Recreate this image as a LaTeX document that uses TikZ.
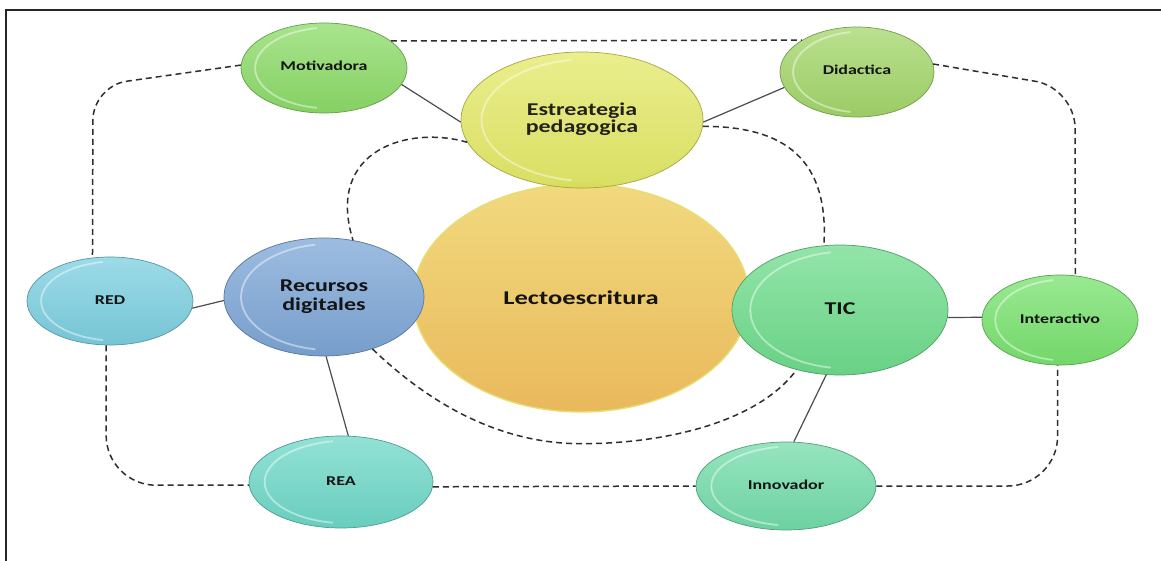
\documentclass[tikz,border=0pt]{standalone}
\usepackage{fontspec}
\setmainfont{Carlito}
\usetikzlibrary{shapes.geometric}
\definecolor{cMot}{HTML}{8CDB68}
\definecolor{cDid}{HTML}{A3D66A}
\definecolor{cEst}{HTML}{E2E85C}
\definecolor{cRec}{HTML}{7DA6D6}
\definecolor{cRed}{HTML}{7CCFE0}
\definecolor{cTic}{HTML}{6EDC8C}
\definecolor{cInt}{HTML}{78E26E}
\definecolor{cRea}{HTML}{6ED8C8}
\definecolor{cInn}{HTML}{73DCAA}
\definecolor{lecTop}{HTML}{F2D97E}
\definecolor{lecBot}{HTML}{E9B95C}
\definecolor{lecRim}{HTML}{E6DE72}
\definecolor{txt}{HTML}{141414}
\newcommand\fs[2]{\fontsize{#1}{#2}\selectfont}
\tikzset{
  bubble/.style={ellipse, inner sep=0pt, draw=#1!72!black, line width=.7pt,
    top color=#1!75!white, bottom color=#1!95!black},
  lbl/.style={inner sep=0pt, text=txt},
  dashline/.style={dash pattern=on 6pt off 4pt, line width=1.5pt, black!82},
  solidline/.style={line width=1.2pt, black!70},
}
\newcommand\bub[8]{%
  \node[bubble=#6, minimum width=#4*2pt, minimum height=#5*2pt] (#1) at (#2,#3) {};
  \draw[white, opacity=.45, line width=1.8pt] ([xshift=#4*.07pt]#1.center) ++(100:#4*.9 and #5*.9)
    arc[start angle=100, end angle=260, x radius=#4*.9, y radius=#5*.9];
  \node[lbl, font={\fs#8}] (#1t) at (#1.center) {\scalebox{1.33}[1]{\bfseries\begin{tabular}{@{}c@{}}#7\end{tabular}}};
}
\begin{document}
\begin{tikzpicture}[x=1pt, y=-1pt]
\useasboundingbox (0,0) rectangle (1161,561);
\fill[white] (0,0) rectangle (1161,561);
\draw[line width=1.3pt, black!85] (6,561) -- (6,10) -- (1161,10);
% central
\node[ellipse, inner sep=0pt, minimum width=336pt, minimum height=228pt, draw=lecRim, line width=1.4pt,
  top color=lecTop, bottom color=lecBot] (lec) at (581,298) {};
\node[lbl, font={\fs{19.5}{22}}] (lect) at (lec.center) {\scalebox{1.36}[1]{\bfseries Lectoescritura}};
\begin{scope}[fill opacity=.93]
\bub{est}{582}{120}{121}{68}{cEst}{Estreategia\\pedagogica}{{18}{15}}
\end{scope}
\bub{rec}{324}{297}{100}{59}{cRec}{Recursos\\digitales}{{18}{19.5}}
\bub{tic}{840}{310}{108}{65}{cTic}{TIC}{{18}{20}}
\bub{mot}{324}{68}{83}{45}{cMot}{Motivadora}{{13.5}{15}}
\bub{did}{857}{72}{77}{45}{cDid}{Didactica}{{13.5}{15}}
\bub{red}{110}{301}{83}{44}{cRed}{RED}{{13.5}{15}}
\bub{int}{1060}{320}{78}{45}{cInt}{Interactivo}{{13.5}{15}}
\bub{rea}{341}{482}{92}{46}{cRea}{REA}{{13.5}{15}}
\bub{inn}{786}{486}{90}{44}{cInn}{Innovador}{{13.5}{15}}
% corner coordinates
\coordinate (kMot) at (93,86);
\coordinate (kDid) at (1075,88);
% solid connectors
\draw[solidline] (mot.348) -- (est.181);
\draw[solidline] (did.192) -- (est.359);
\draw[solidline] (red.355) -- (rec.182);
\draw[solidline] (rec.272) -- (rea.81);
\draw[solidline] (tic.258) -- (inn.80);
\draw[solidline] (tic.356) -- (int.178);
% dashed connectors
\draw[dashline] (mot.22) -- (did.150);
\draw[dashline, rounded corners=34pt] (mot.178) -- (kMot) -- (red.112);
\draw[dashline] (est.191) .. controls +(-58,-17) and +(-28,-91) .. (rec.63);
\draw[dashline] (est.357) .. controls +(70,0) and +(6,-96) .. (tic.104);
\draw[dashline, rounded corners=40pt] (did.6) -- (kDid) -- (int.71);
\draw[dashline, rounded corners=50pt] (red.265) -- (red.265 |- rea.182) -- (rea.182);
\draw[dashline] (rea.357) -- (inn.180);
\draw[dashline, rounded corners=50pt] (inn.0) -- (int.267 |- inn.0) -- (int.267);
\draw[dashline] (rec.313) .. controls +(48,46) and +(-90,0) .. ([yshift=-31pt]lec.south)
  .. controls +(90,0) and +(-37,50) .. (tic.234);
\end{tikzpicture}
\end{document}
